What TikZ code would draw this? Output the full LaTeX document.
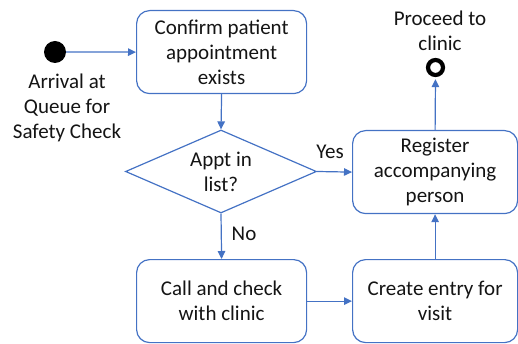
\documentclass[tikz,border=0pt]{standalone}
\usepackage{fontspec}
\setmainfont{Carlito}
\usetikzlibrary{shapes.geometric,arrows.meta}
\definecolor{bl}{HTML}{4472C4}
\definecolor{txt}{HTML}{141414}
\begin{document}
\begin{tikzpicture}[x=1pt,y=-1pt,
  every node/.style={text=txt},
  txtfont/.style={font=\fontsize{21}{25}\selectfont},
  box/.style={draw=bl, line width=1.2pt, rounded corners=13pt, minimum width=170pt, minimum height=83pt, align=center, txtfont, anchor=north west, inner sep=0pt},
  dec/.style={draw=bl, line width=1.2pt, diamond, aspect=2.3, minimum width=191pt, minimum height=83pt, align=center, txtfont, inner sep=0pt},
  lbl/.style={align=center, txtfont, inner sep=0pt},
  arr/.style={draw=bl, line width=1.2pt, -{Triangle[length=8pt,width=7.5pt]}}
]
\useasboundingbox (0,0) rectangle (518,344);
\node[circle, fill=black, minimum size=22pt, inner sep=0pt] (start) at (55,52) {};
\node[lbl] (arrival) at (67,108) {Arrival at\\Queue for\\Safety Check};
\node[box] (confirm) at (136,10) {Confirm patient\\appointment\\exists};
\node[dec] (appt) at (221,171.5) {Appt in\\list?};
\node[box, minimum width=165pt] (reg) at (352,130) {Register\\accompanying\\person};
\node[box] (call) at (136,259) {Call and check\\with clinic};
\node[box, minimum width=165pt] (create) at (352,259) {Create entry for\\visit};
\node[circle, draw=black, line width=4.2pt, minimum size=15pt, inner sep=0pt] (endc) at (435.5,67.5) {};
\node[lbl] (proceed) at (440,30.5) {Proceed to\\clinic};
\node[lbl] (yes) at (330,152) {Yes};
\node[lbl] (no) at (244,234) {No};
\draw[arr] (start.east) -- (confirm.west);
\draw[arr] (confirm.south) -- (appt.north);
\draw[arr] (appt.east) -- (reg.west);
\draw[arr] (appt.south) -- (call.north);
\draw[arr] (call.east) -- (create.west);
\draw[arr] (create.north) -- (reg.south);
\draw[arr, shorten >=2.1pt] (reg.north) -- (endc.south);
\end{tikzpicture}
\end{document}
